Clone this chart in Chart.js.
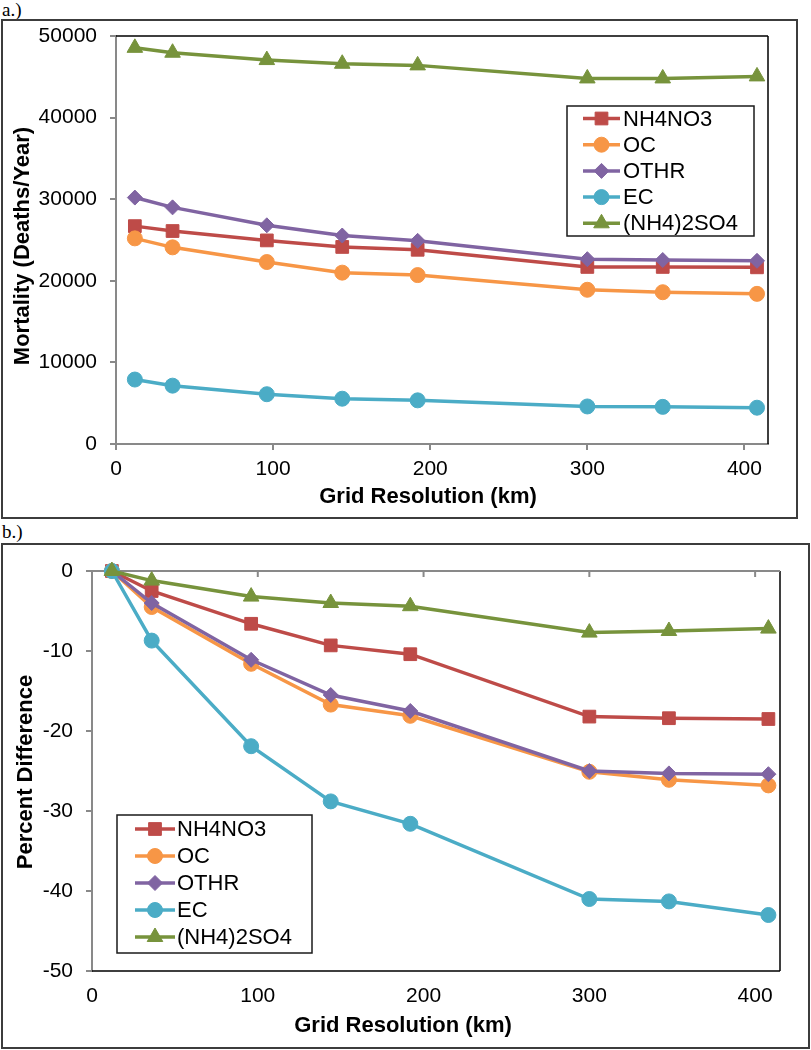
<!DOCTYPE html>
<html>
<head>
<meta charset="utf-8">
<script src="https://cdn.jsdelivr.net/npm/chart.js@4.4.1/dist/chart.umd.min.js"></script>
<style>
    body { margin: 0; background: #fff; width: 811px; height: 1050px; position: relative; overflow: hidden; }
    .frame { position: absolute; border: 2px solid #3c3c3c; box-sizing: border-box; }
    .tag { position: absolute; font-family: "Liberation Serif", "Times New Roman", serif; font-size: 19px; line-height: 20px; }
    canvas { position: absolute; left: 0; }
</style>
</head>
<body>
<div class="tag" style="left:2px; top:0px;">a.)</div>
<div class="frame" style="left:1px; top:19px; width:797px; height:500px;"></div>
<div class="tag" style="left:2px; top:522px;">b.)</div>
<div class="frame" style="left:1px; top:543px; width:809px; height:506px;"></div>
<canvas id="chartA" width="811" height="520" style="top:0px"></canvas>
<canvas id="chartB" width="811" height="530" style="top:520px"></canvas>

<script>
// grid resolutions (km) shared by both panels
const gridKm = [12, 36, 96, 144, 192, 300, 348, 408];
const seriesNames = ['NH4NO3', 'OC', 'OTHR', 'EC', '(NH4)2SO4'];

// a.) mortality, deaths/year
const mortNH4NO3 = [26700, 26100, 24950, 24150, 23800, 21700, 21700, 21650];
const mortOC = [25200, 24100, 22300, 21000, 20700, 18900, 18600, 18400];
const mortOTHR = [30200, 29000, 26800, 25550, 24900, 22650, 22550, 22450];
const mortEC = [7900, 7150, 6100, 5550, 5350, 4600, 4550, 4450];
const mortSO4 = [48550, 47950, 47050, 46600, 46400, 44800, 44800, 45050];

// b.) percent difference vs 12 km
const pctNH4NO3 = [0, -2.5, -6.6, -9.3, -10.4, -18.2, -18.4, -18.5];
const pctOC = [0, -4.5, -11.6, -16.7, -18.1, -25.1, -26.1, -26.8];
const pctOTHR = [0, -4.0, -11.1, -15.5, -17.5, -25.0, -25.3, -25.4];
const pctEC = [0, -8.7, -21.9, -28.8, -31.6, -41.0, -41.3, -43.0];
const pctSO4 = [0, -1.2, -3.2, -4.0, -4.4, -7.7, -7.5, -7.2];

// styles
const seriesColors = ['#BE4B48', '#F79646', '#8064A2', '#4BACC6', '#77933C'];
const seriesMarkers = ['rect', 'circle', 'rectRot', 'circle', 'triangle'];
const markerRadius = [9, 7.5, 7.5, 7.5, 9];

const FONT = '"Liberation Sans", Arial, sans-serif';
const AXIS_GREY = '#898989';

document.addEventListener('DOMContentLoaded', function () {
    Chart.defaults.font.family = FONT;
    Chart.defaults.color = '#000';

    drawPanel('chartA', {
        values: [mortNH4NO3, mortOC, mortOTHR, mortEC, mortSO4],
        yMin: 0, yMax: 50000, yStep: 10000,
        pad: { top: 36, right: 43 },
        yWidth: 116, xHeight: 76, xLabelPad: 7, xAxisOnTop: false,
        blackEdges: ['top', 'right'],
        xTitle: { x: 428, y: 497 },
        yTitle: { text: 'Mortality (Deaths/Year)', x: 23, y: 246 },
        legend: { x: 567, y: 106, w: 187, h: 130, rowY: 118.5, rowGap: 26.2, lineX1: 583, lineX2: 620, textX: 623 }
    });

    drawPanel('chartB', {
        values: [pctNH4NO3, pctOC, pctOTHR, pctEC, pctSO4],
        yMin: -50, yMax: 0, yStep: 10,
        pad: { top: 51, right: 31 },
        yWidth: 92, xHeight: 79, xLabelPad: 13, xAxisOnTop: true,
        blackEdges: ['bottom', 'right'],
        xTitle: { x: 403, y: 506 },
        yTitle: { text: 'Percent Difference', x: 26, y: 252 },
        legend: { x: 117, y: 295, w: 195, h: 138, rowY: 309, rowGap: 27, lineX1: 135, lineX2: 175, textX: 177 }
    });
});

function buildDatasets(valueLists) {
    return valueLists.map((vals, i) => ({
        label: seriesNames[i],
        data: gridKm.map((km, j) => ({ x: km, y: vals[j] })),
        borderColor: seriesColors[i],
        backgroundColor: seriesColors[i],
        borderWidth: 3.5,
        pointStyle: seriesMarkers[i],
        pointRadius: markerRadius[i],
        pointBackgroundColor: seriesColors[i],
        pointBorderColor: seriesColors[i],
        pointBorderWidth: 1,
        showLine: true,
        tension: 0,
        clip: false,
        order: valueLists.length - i
    }));
}

function panelPlugin(cfg) {
    return {
        id: 'panelExtras',
        beforeDatasetsDraw(chart) {
            const { ctx, chartArea: a } = chart;
            ctx.save();
            ctx.strokeStyle = '#000';
            ctx.lineWidth = 1.5;
            ctx.beginPath();
            cfg.blackEdges.forEach(edge => {
                if (edge === 'top') { ctx.moveTo(a.left, a.top); ctx.lineTo(a.right, a.top); }
                if (edge === 'right') { ctx.moveTo(a.right, a.top); ctx.lineTo(a.right, a.bottom); }
                if (edge === 'bottom') { ctx.moveTo(a.left, a.bottom); ctx.lineTo(a.right, a.bottom); }
            });
            ctx.stroke();

            if (cfg.xAxisOnTop) {
                // x axis crosses at y = 0, ticks hang down into the plot
                const xs = chart.scales.x;
                ctx.strokeStyle = AXIS_GREY;
                ctx.lineWidth = 2;
                ctx.beginPath();
                ctx.moveTo(a.left, a.top);
                ctx.lineTo(a.right, a.top);
                xs.ticks.forEach(t => {
                    const px = xs.getPixelForValue(t.value);
                    ctx.moveTo(px, a.top);
                    ctx.lineTo(px, a.top + 6);
                });
                ctx.stroke();
            }
            ctx.restore();
        },
        afterDraw(chart) {
            const ctx = chart.ctx;
            ctx.save();
            ctx.fillStyle = '#000';
            ctx.font = 'bold 22px ' + FONT;
            ctx.textAlign = 'center';
            ctx.textBaseline = 'middle';
            ctx.fillText('Grid Resolution (km)', cfg.xTitle.x, cfg.xTitle.y);
            ctx.translate(cfg.yTitle.x, cfg.yTitle.y);
            ctx.rotate(-Math.PI / 2);
            ctx.fillText(cfg.yTitle.text, 0, 0);
            ctx.restore();
            drawLegend(chart, cfg.legend);
        }
    };
}

function drawLegend(chart, lg) {
    const ctx = chart.ctx;
    ctx.save();
    ctx.fillStyle = '#fff';
    ctx.fillRect(lg.x, lg.y, lg.w, lg.h);
    ctx.strokeStyle = '#1a1a1a';
    ctx.lineWidth = 1.5;
    ctx.strokeRect(lg.x, lg.y, lg.w, lg.h);

    chart.data.datasets.forEach((ds, i) => {
        const y = lg.rowY + i * lg.rowGap;
        ctx.strokeStyle = ds.borderColor;
        ctx.lineWidth = ds.borderWidth;
        ctx.beginPath();
        ctx.moveTo(lg.lineX1, y);
        ctx.lineTo(lg.lineX2, y);
        ctx.stroke();

        ctx.fillStyle = ds.pointBackgroundColor;
        ctx.strokeStyle = ds.pointBorderColor;
        ctx.lineWidth = 1;
        Chart.helpers.drawPoint(ctx, {
            pointStyle: ds.pointStyle, radius: ds.pointRadius, rotation: 0, borderWidth: 1
        }, (lg.lineX1 + lg.lineX2) / 2, y);

        ctx.fillStyle = '#000';
        ctx.font = '22px ' + FONT;
        ctx.textAlign = 'left';
        ctx.textBaseline = 'middle';
        ctx.fillText(ds.label, lg.textX, y + 1);
    });
    ctx.restore();
}

function drawPanel(canvasId, cfg) {
    const ctx = document.getElementById(canvasId).getContext('2d');
    const tickFont = { family: FONT, size: 21 };

    new Chart(ctx, {
        type: 'scatter',
        data: { datasets: buildDatasets(cfg.values) },
        options: {
            responsive: false,
            animation: false,
            events: [],
            layout: { padding: { top: cfg.pad.top, right: cfg.pad.right, left: 0, bottom: 0 } },
            plugins: { legend: { display: false }, tooltip: { enabled: false } },
            scales: {
                x: {
                    type: 'linear', min: 0, max: 415,
                    afterFit: s => { s.height = cfg.xHeight; },
                    border: { display: !cfg.xAxisOnTop, color: AXIS_GREY, width: 2 },
                    grid: {
                        display: !cfg.xAxisOnTop, drawOnChartArea: false,
                        drawTicks: !cfg.xAxisOnTop, tickLength: 6, color: AXIS_GREY, lineWidth: 2
                    },
                    ticks: {
                        stepSize: 100, includeBounds: false, padding: cfg.xLabelPad,
                        maxRotation: 0, autoSkip: false, color: '#000', font: tickFont,
                        callback: v => String(v)
                    }
                },
                y: {
                    type: 'linear', min: cfg.yMin, max: cfg.yMax,
                    afterFit: s => { s.width = cfg.yWidth; },
                    border: { display: true, color: AXIS_GREY, width: 2 },
                    grid: { display: true, drawOnChartArea: false, drawTicks: true, tickLength: 6, color: AXIS_GREY, lineWidth: 2 },
                    ticks: {
                        stepSize: cfg.yStep, padding: 13, color: '#000', font: tickFont,
                        callback: v => String(v)
                    }
                }
            }
        },
        plugins: [panelPlugin(cfg)]
    });
}
</script>
</body>
</html>
